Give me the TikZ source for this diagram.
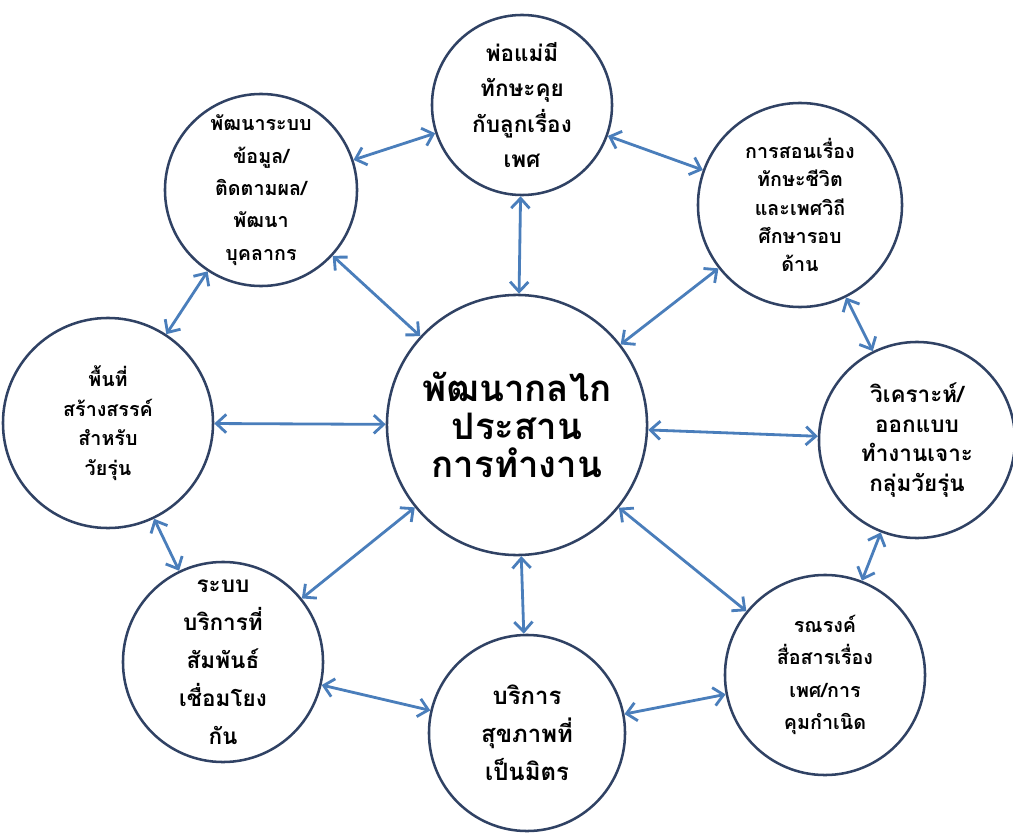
\documentclass[tikz,border=0pt]{standalone}
\usepackage{fontspec}
\newfontfamily\thaifont[Script=Thai]{Loma}
\usepackage{tikz}
\usetikzlibrary{arrows.meta}

\definecolor{ringline}{RGB}{48,66,100}
\definecolor{linkblue}{RGB}{74,126,187}

\begin{document}
\begin{tikzpicture}[x=0.025cm,y=-0.025cm,
		topic/.style={draw=ringline,line width=1.8pt,circle,fill=white,inner sep=0pt,align=center},
		txt/.style 2 args={font=\thaifont\bfseries\fontsize{#1}{#2}\selectfont},
		link/.style={linkblue,line width=2pt,{Straight Barb[length=7pt,width=13pt]}-{Straight Barb[length=7pt,width=13pt]}}]
			\useasboundingbox (0,0) rectangle (1013,840);
			
			\node[topic,txt={26}{27},minimum size=6.5cm] (hub) at (517,425) {พัฒนากลไก\\ประสาน\\การทำงาน};
			
			\node[topic,txt={16}{25},minimum size=4.5cm] (parent) at (522,105) {พ่อแม่มี\\ทักษะคุย\\กับลูกเรื่อง\\เพศ};
			\node[topic,txt={14}{20},minimum size=5.1cm] (teach) at (800,205) {การสอนเรื่อง\\ทักษะชีวิต\\และเพศวิถี\\ศึกษารอบ\\ด้าน};
			\node[topic,txt={16}{21},minimum size=4.9cm] (design) at (917,440) {วิเคราะห์/\\ออกแบบ\\ทำงานเจาะ\\กลุ่มวัยรุ่น};
			\node[topic,txt={14}{23},minimum size=5cm] (campaign) at (825,675) {รณรงค์\\สื่อสารเรื่อง\\เพศ/การ\\คุมกำเนิด};
			\node[topic,txt={17}{27},minimum size=4.9cm] (friendly) at (527,733) {บริการ\\สุขภาพที่\\เป็นมิตร};
			\node[topic,txt={16}{27},minimum size=5cm] (service) at (223,662) {ระบบ\\บริการที่\\สัมพันธ์\\เชื่อมโยง\\กัน};
			\node[topic,txt={14}{21},minimum size=5.25cm] (space) at (108,423) {พื้นที่\\สร้างสรรค์\\สำหรับ\\วัยรุ่น};
			\node[topic,txt={14}{23},minimum size=4.8cm] (data) at (261,190) {พัฒนาระบบ\\ข้อมูล/\\ติดตามผล/\\พัฒนา\\บุคลากร};
			
			\foreach \t in {parent,teach,design,campaign,friendly,service,space,data} {
				\draw[link] (hub) -- (\t);
			}
			\foreach \a/\b in {data/parent,parent/teach,teach/design,design/campaign,campaign/friendly,friendly/service,service/space,space/data} {
				\draw[link] (\a) -- (\b);
			}
		\end{tikzpicture}
\end{document}
